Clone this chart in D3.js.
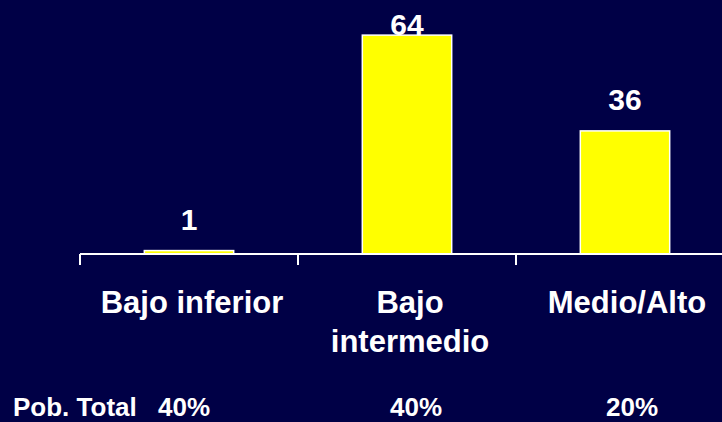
<!DOCTYPE html>
<html>
<head>
<meta charset="utf-8">
<script src="https://cdn.jsdelivr.net/npm/d3@7"></script>
<style>
  html, body { margin: 0; padding: 0; background: #000046; }
  svg { display: block; }
  text { font-family: "Liberation Sans", Arial, Helvetica, sans-serif; font-weight: bold; fill: #ffffff; }
</style>
</head>
<body>
<svg id="chart" width="722" height="422"></svg>
<script>
// Nivel socioeconómico: valores por grupo
const categories = ["Bajo inferior", "Bajo intermedio", "Medio/Alto"];
const categoryLines = [["Bajo inferior"], ["Bajo", "intermedio"], ["Medio/Alto"]];
const values = [1, 64, 36];
const populationLabel = "Pob. Total";
const populationShares = ["40%", "40%", "20%"];

const width = 722, height = 422;
const svg = d3.select("#chart");

svg.append("rect").attr("width", width).attr("height", height).attr("fill", "#000046");

const baseY = 254;
const x = d3.scaleBand()
  .domain(categories)
  .range([80, 734])
  .paddingInner(0.59)
  .paddingOuter(0.295);

const y = d3.scaleLinear()
  .domain([0, 70])
  .range([baseY, baseY - 70 * 3.42]);

// Barras
svg.selectAll("rect.bar")
  .data(categories)
  .join("rect")
  .attr("class", "bar")
  .attr("x", d => x(d))
  .attr("width", x.bandwidth())
  .attr("y", (d, i) => y(values[i]))
  .attr("height", (d, i) => baseY - y(values[i]))
  .attr("fill", "#ffff00")
  .attr("stroke", "#ffffff")
  .attr("stroke-width", 1.5);

// Eje horizontal con marcas entre categorías
svg.append("line")
  .attr("x1", 80).attr("x2", width)
  .attr("y1", baseY).attr("y2", baseY)
  .attr("stroke", "#ffffff").attr("stroke-width", 2);

const gap = (x.step() - x.bandwidth()) / 2;
svg.selectAll("line.tick")
  .data(categories)
  .join("line")
  .attr("class", "tick")
  .attr("x1", d => x(d) - gap).attr("x2", d => x(d) - gap)
  .attr("y1", baseY).attr("y2", baseY + 11)
  .attr("stroke", "#ffffff").attr("stroke-width", 2);

// Etiquetas de valor
svg.selectAll("text.value")
  .data(categories)
  .join("text")
  .attr("class", "value")
  .attr("x", d => x(d) + x.bandwidth() / 2)
  .attr("y", (d, i) => Math.max(y(values[i]) - 21, 35))
  .attr("text-anchor", "middle")
  .style("font-size", "30px")
  .text((d, i) => values[i]);

// Etiquetas de categoría
const catOffsets = [3, 3, 2];
const catGroups = svg.selectAll("text.cat")
  .data(categories)
  .join("text")
  .attr("class", "cat")
  .attr("text-anchor", "middle")
  .style("font-size", "31px")
  .attr("transform", (d, i) => `translate(${x(d) + x.bandwidth() / 2 + catOffsets[i]},313)`);

catGroups.selectAll("tspan")
  .data((d, i) => categoryLines[i])
  .join("tspan")
  .attr("x", 0)
  .attr("dy", (t, j) => j === 0 ? 0 : 38.5)
  .text(t => t);

// Fila de población total
const shareY = 416;
svg.append("text")
  .attr("x", 13).attr("y", shareY)
  .style("font-size", "26px")
  .text(populationLabel);

const shareX = [184, 416, 632];
svg.selectAll("text.share")
  .data(populationShares)
  .join("text")
  .attr("class", "share")
  .attr("x", (d, i) => shareX[i])
  .attr("y", shareY)
  .attr("text-anchor", "middle")
  .style("font-size", "26px")
  .text(d => d);
</script>
</body>
</html>
